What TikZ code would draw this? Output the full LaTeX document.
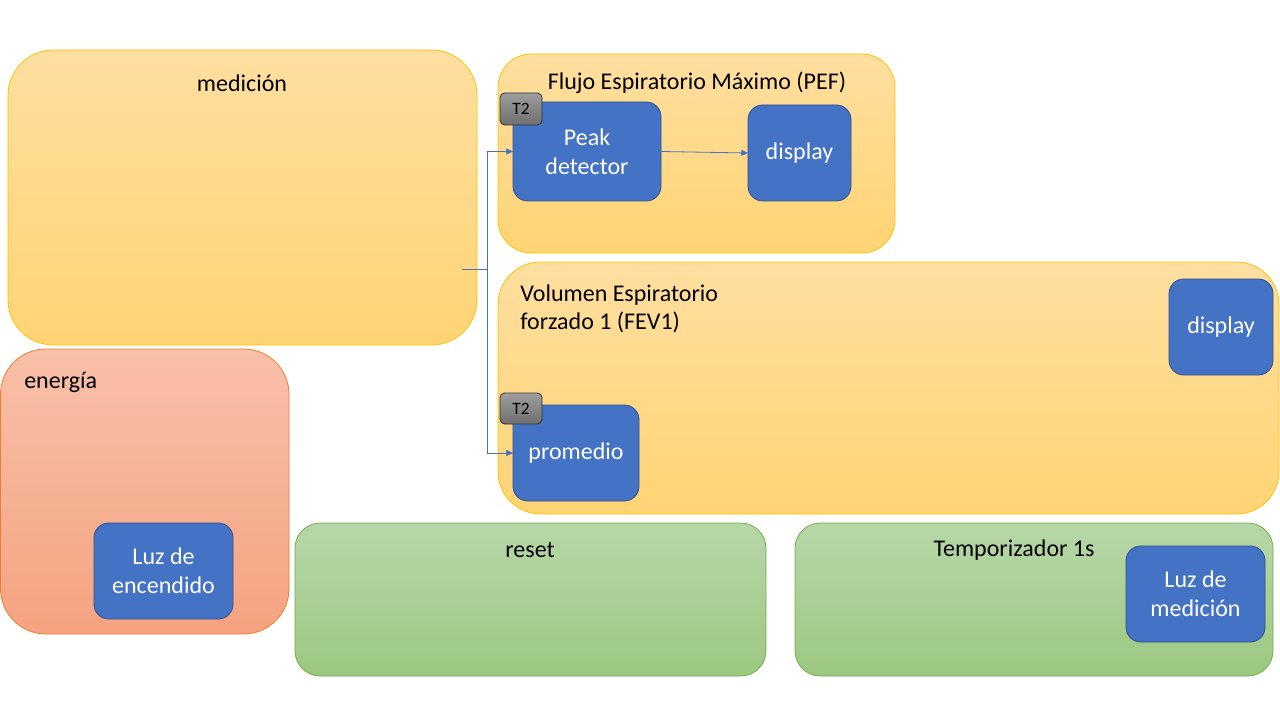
\documentclass[tikz,border=0pt]{standalone}
\usepackage{fontspec}
\setmainfont{Carlito}
\usetikzlibrary{arrows.meta}
\definecolor{ylwT}{HTML}{FFDFA0}
\definecolor{ylwB}{HTML}{FFD474}
\definecolor{ylwD}{HTML}{FFC000}
\definecolor{orgT}{HTML}{F8C0A8}
\definecolor{orgB}{HTML}{F5A380}
\definecolor{orgD}{HTML}{ED7D31}
\definecolor{grnT}{HTML}{B7D7A8}
\definecolor{grnB}{HTML}{9CC881}
\definecolor{grnD}{HTML}{70AD47}
\definecolor{bluF}{HTML}{4472C4}
\definecolor{bluD}{HTML}{2F528F}
\definecolor{gryT}{HTML}{9E9E9E}
\definecolor{gryB}{HTML}{6E6E6E}
\newcommand\pbox[7]{\node[#2, minimum width={(#5-#3)*0.75pt}, minimum height={(#6-#4)*0.75pt}] (#1) at ({(#3+#5)/2},{(#4+#6)/2}) {#7};}
\tikzset{
  base/.style={rectangle, inner sep=0pt, outer sep=0pt, line width=0.6pt},
  ylw/.style={base, draw=ylwD, top color=ylwT, bottom color=ylwB},
  org/.style={base, draw=orgD, top color=orgT, bottom color=orgB},
  grn/.style={base, draw=grnD, top color=grnT, bottom color=grnB},
  blu/.style={base, draw=bluD, fill=bluF, rounded corners=11pt, text=white, align=center, font=\fontsize{18}{22}\selectfont},
  tag/.style={base, draw=black!80, top color=gryT, bottom color=gryB, rounded corners=3.5pt, font=\fontsize{13}{15}\selectfont},
  lbl/.style={inner sep=0pt, font=\fontsize{18}{21}\selectfont, text=black},
  conn/.style={draw=bluF, line width=0.6pt},
  arr/.style={conn, -{Triangle[length=5pt,width=4.5pt]}}
}
\begin{document}
\begin{tikzpicture}[x=0.75pt, y=-0.75pt]
\useasboundingbox (0,0) rectangle (1280,720);
% containers
\pbox{med}{ylw, rounded corners=34pt}{8}{50}{477}{345}{}
\pbox{pef}{ylw, rounded corners=25pt}{498}{54}{895}{253}{}
\pbox{fev}{ylw, rounded corners=32pt}{498}{262}{1279}{514}{}
\pbox{ene}{org, rounded corners=34pt}{0.5}{349}{289}{634}{}
\pbox{rst}{grn, rounded corners=19pt}{295}{523}{766}{676}{}
\pbox{tmp}{grn, rounded corners=19pt}{795}{523}{1273}{676}{}
% container labels
\node[lbl] (medl) at (242,83) {medición};
\node[lbl] (pefl) at (697,83) {Flujo Espiratorio Máximo (PEF)};
\node[lbl, anchor=west, align=left] (fevl) at (520,309) {Volumen Espiratorio\\forzado 1 (FEV1)};
\node[lbl, anchor=west] (enel) at (24,382) {energía};
\node[lbl] (rstl) at (530,550) {reset};
\node[lbl] (tmpl) at (1014,550) {Temporizador 1s};
% blue blocks
\pbox{peak}{blu}{513}{102}{661}{201}{Peak\\detector}
\pbox{dsp1}{blu}{748}{105}{851}{201}{display}
\pbox{dsp2}{blu}{1169}{279}{1273}{375}{display}
\pbox{prom}{blu}{513}{405}{639}{501}{promedio}
\pbox{luzE}{blu}{94}{523}{233}{619}{Luz de\\encendido}
\pbox{luzM}{blu}{1126}{546}{1265}{642}{Luz de\\medición}
% tags
\pbox{tag1}{tag}{500}{93}{542}{125}{T2}
\pbox{tag2}{tag}{500}{393}{542}{424}{T2}
% connectors
\coordinate (src) at (462,269);
\coordinate (jn) at (487,269);
\draw[conn] (src) -- (jn);
\draw[arr] (jn) |- (peak.west);
\draw[arr] (jn) |- (prom.west);
\draw[arr] (peak.east) -- (dsp1.west |- 0,153);
\end{tikzpicture}
\end{document}
